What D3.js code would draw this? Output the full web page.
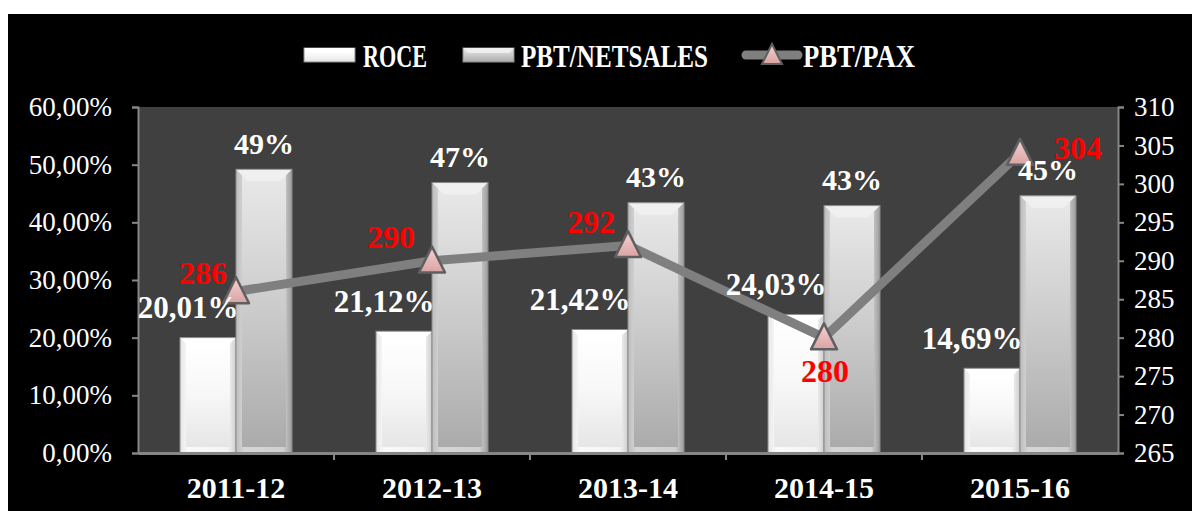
<!DOCTYPE html>
<html>
<head>
<meta charset="utf-8">
<script src="https://cdn.jsdelivr.net/npm/d3@7.9.0/dist/d3.min.js"></script>
<style>
  html, body { margin: 0; padding: 0; background: #fff; }
  svg { display: block; }
  text { font-family: "Liberation Serif", "DejaVu Serif", serif; }
</style>
</head>
<body>
<svg id="chart" width="1192" height="511"></svg>
<script>
// data
const categories = ["2011-12", "2012-13", "2013-14", "2014-15", "2015-16"];
const roce = [20.01, 21.12, 21.42, 24.03, 14.69];
const pbtNetSales = [49.2, 46.9, 43.4, 42.9, 44.6];
const pbtPax = [286, 290, 292, 280, 304];
const leftTicks = [0, 10, 20, 30, 40, 50, 60];
const rightTicks = [265, 270, 275, 280, 285, 290, 295, 300, 305, 310];
const seriesNames = ["ROCE", "PBT/NETSALES", "PBT/PAX"];

// where each PBT/PAX label sits relative to its marker (hand placed in the original)
const paxLabelOffset = [[-33, -19], [-41, -24], [-37, -24], [1, 33], [58, -5]];

const svg = d3.select("#chart");
const plot = { left: 138, right: 1118, top: 107, bottom: 453 };

svg.append("rect").attr("x", 8).attr("y", 14).attr("width", 1184).attr("height", 497).attr("fill", "#000");

const defs = svg.append("defs");
function grad(id, stops, vertical) {
    const g = defs.append("linearGradient").attr("id", id)
        .attr("x1", 0).attr("y1", 0).attr("x2", vertical ? 0 : 1).attr("y2", vertical ? 1 : 0);
    stops.forEach(([o, c]) => g.append("stop").attr("offset", o).attr("stop-color", c));
}
grad("roceFill", [[0, "#ffffff"], [0.5, "#f7f7f7"], [1, "#e6e6e6"]], true);
grad("roceSide", [[0, "#e6e6e6"], [0.15, "#fafafa"], [0.85, "#f4f4f4"], [1, "#cfcfcf"]], false);
grad("pbtFill", [[0, "#e8e8e8"], [0.5, "#cbcbcb"], [1, "#ababab"]], true);
grad("pbtSide", [[0, "#bdbdbd"], [0.15, "#d6d6d6"], [0.85, "#cfcfcf"], [1, "#9c9c9c"]], false);
grad("triFill", [[0, "#f7d2d2"], [1, "#d9a3a3"]], true);

svg.append("rect")
    .attr("x", plot.left).attr("y", plot.top)
    .attr("width", plot.right - plot.left).attr("height", plot.bottom - plot.top)
    .attr("fill", "#404040");

const x = d3.scaleBand().domain(categories).range([plot.left, plot.right])
    .paddingInner(84 / 196).paddingOuter(42 / 196);
const x1 = d3.scaleBand().domain(["roce", "pbt"]).range([0, x.bandwidth()]);
const y = d3.scaleLinear().domain([0, 60]).range([plot.bottom, plot.top]);
const y2 = d3.scaleLinear().domain([265, 310]).range([plot.bottom, plot.top]);

// bars with a light bevel
function drawBars(values, key, fillId, sideId, topColor) {
    const g = svg.append("g");
    values.forEach((v, i) => {
        const bx = x(categories[i]) + x1(key);
        const bw = x1.bandwidth();
        const by = y(v);
        const bh = plot.bottom - by;
        const b = 6;
        g.append("rect").attr("x", bx).attr("y", by).attr("width", bw).attr("height", bh)
            .attr("fill", `url(#${sideId})`);
        g.append("rect").attr("x", bx + b).attr("y", by + b).attr("width", bw - 2 * b).attr("height", bh - 2 * b)
            .attr("fill", `url(#${fillId})`);
        g.append("path")
            .attr("d", `M${bx},${by}L${bx + bw},${by}L${bx + bw - b * 2},${by + b * 2}L${bx + b * 2},${by + b * 2}Z`)
            .attr("fill", topColor);
        g.append("rect").attr("x", bx).attr("y", by).attr("width", bw).attr("height", bh)
            .attr("fill", "none").attr("stroke", "#8a8a8a").attr("stroke-width", 1);
    });
}
drawBars(roce, "roce", "roceFill", "roceSide", "#ffffff");
drawBars(pbtNetSales, "pbt", "pbtFill", "pbtSide", "#f0f0f0");

// axes
const axisColor = "#868686";
const leftAxis = svg.append("g").attr("transform", `translate(${plot.left},0)`)
    .call(d3.axisLeft(y).tickValues(leftTicks).tickSize(6).tickPadding(20)
        .tickFormat(d => d.toFixed(2).replace(".", ",") + "%"));
const rightAxis = svg.append("g").attr("transform", `translate(${plot.right},0)`)
    .call(d3.axisRight(y2).tickValues(rightTicks).tickSize(6).tickPadding(10));
const bottomAxis = svg.append("g").attr("transform", `translate(0,${plot.bottom})`)
    .call(d3.axisBottom(x).tickSize(0).tickPadding(22));

[leftAxis, rightAxis, bottomAxis].forEach(a => {
    a.select(".domain").attr("stroke", axisColor).attr("stroke-width", 2);
    a.selectAll(".tick line").attr("stroke", axisColor).attr("stroke-width", 2);
    a.selectAll("text").attr("fill", "#fff").attr("font-family", '"Liberation Serif", serif');
});
leftAxis.selectAll("text").attr("font-size", 27);
rightAxis.selectAll("text").attr("font-size", 27);
bottomAxis.select(".domain").attr("stroke-width", 3);
bottomAxis.selectAll("text").attr("font-size", 30).attr("font-weight", "bold").attr("dy", "0.75em");

// category separators on the x axis
const step = x.step();
svg.append("g").selectAll("line")
    .data(categories.slice(1))
    .join("line")
    .attr("x1", d => x(d) - x.paddingInner() * step / 2)
    .attr("x2", d => x(d) - x.paddingInner() * step / 2)
    .attr("y1", plot.bottom).attr("y2", plot.bottom + 7)
    .attr("stroke", axisColor).attr("stroke-width", 2);

// PBT/PAX line
const cx = i => x(categories[i]) + x.bandwidth() / 2;
const line = d3.line().x((d, i) => cx(i)).y(d => y2(d));
svg.append("path").datum(pbtPax).attr("d", line)
    .attr("fill", "none").attr("stroke", "#7f7f7f").attr("stroke-width", 9)
    .attr("stroke-linejoin", "round");

const tri = (px, py, s) => `M${px},${py - s * 0.55}L${px + s / 2},${py + s * 0.45}L${px - s / 2},${py + s * 0.45}Z`;
svg.append("g").selectAll("path")
    .data(pbtPax)
    .join("path")
    .attr("d", (d, i) => tri(cx(i), y2(d), 26))
    .attr("fill", "url(#triFill)").attr("stroke", "#5f5f5f").attr("stroke-width", 2.5)
    .attr("stroke-linejoin", "round");

// data labels
const labelFont = '"Liberation Serif", serif';
svg.append("g").selectAll("text")
    .data(roce)
    .join("text")
    .attr("x", (d, i) => x(categories[i]) + x1("roce") + x1.bandwidth() / 2 - 20)
    .attr("y", d => y(d) - 30)
    .attr("dy", "0.35em")
    .attr("text-anchor", "middle")
    .attr("font-family", labelFont).attr("font-weight", "bold").attr("font-size", 31)
    .attr("fill", "#fff")
    .text(d => d.toFixed(2).replace(".", ",") + "%");

svg.append("g").selectAll("text")
    .data(pbtNetSales)
    .join("text")
    .attr("x", (d, i) => x(categories[i]) + x1("pbt") + x1.bandwidth() / 2)
    .attr("y", d => y(d) - 26)
    .attr("dy", "0.35em")
    .attr("text-anchor", "middle")
    .attr("font-family", labelFont).attr("font-weight", "bold").attr("font-size", 30)
    .attr("fill", "#fff")
    .text(d => Math.round(d) + "%");

svg.append("g").selectAll("text")
    .data(pbtPax)
    .join("text")
    .attr("x", (d, i) => cx(i) + paxLabelOffset[i][0])
    .attr("y", (d, i) => y2(d) + paxLabelOffset[i][1])
    .attr("dy", "0.35em")
    .attr("text-anchor", "middle")
    .attr("font-family", labelFont).attr("font-weight", "bold").attr("font-size", 32)
    .attr("fill", "#ff0000")
    .text(d => d);

// legend
const legend = svg.append("g");
const legendY = 55;
const legendItems = [
    { name: seriesNames[0], sx: 304, tx: 363, tw: 64, kind: "roce" },
    { name: seriesNames[1], sx: 463, tx: 521, tw: 187, kind: "pbt" },
    { name: seriesNames[2], sx: 742, tx: 803, tw: 112, kind: "line" }
];
legendItems.forEach(it => {
    if (it.kind === "line") {
        legend.append("line").attr("x1", it.sx + 4).attr("x2", it.sx + 56)
            .attr("y1", legendY).attr("y2", legendY)
            .attr("stroke", "#7f7f7f").attr("stroke-width", 9).attr("stroke-linecap", "round");
        legend.append("path").attr("d", tri(it.sx + 30, legendY, 20))
            .attr("fill", "url(#triFill)").attr("stroke", "#5f5f5f").attr("stroke-width", 2);
    } else {
        const fillId = it.kind === "roce" ? "roceFill" : "pbtFill";
        legend.append("rect").attr("x", it.sx).attr("y", legendY - 7).attr("width", 51).attr("height", 14)
            .attr("fill", `url(#${fillId})`).attr("stroke", "#8a8a8a").attr("stroke-width", 1);
        legend.append("path")
            .attr("d", `M${it.sx},${legendY - 7}L${it.sx + 51},${legendY - 7}L${it.sx + 46},${legendY - 2}L${it.sx + 5},${legendY - 2}Z`)
            .attr("fill", it.kind === "roce" ? "#ffffff" : "#eeeeee");
    }
    legend.append("text")
        .attr("x", it.tx).attr("y", legendY).attr("dy", "0.36em")
        .attr("font-family", labelFont).attr("font-weight", "bold").attr("font-size", 32)
        .attr("textLength", it.tw).attr("lengthAdjust", "spacingAndGlyphs")
        .attr("fill", "#fff")
        .text(it.name);
});
</script>
</body>
</html>
